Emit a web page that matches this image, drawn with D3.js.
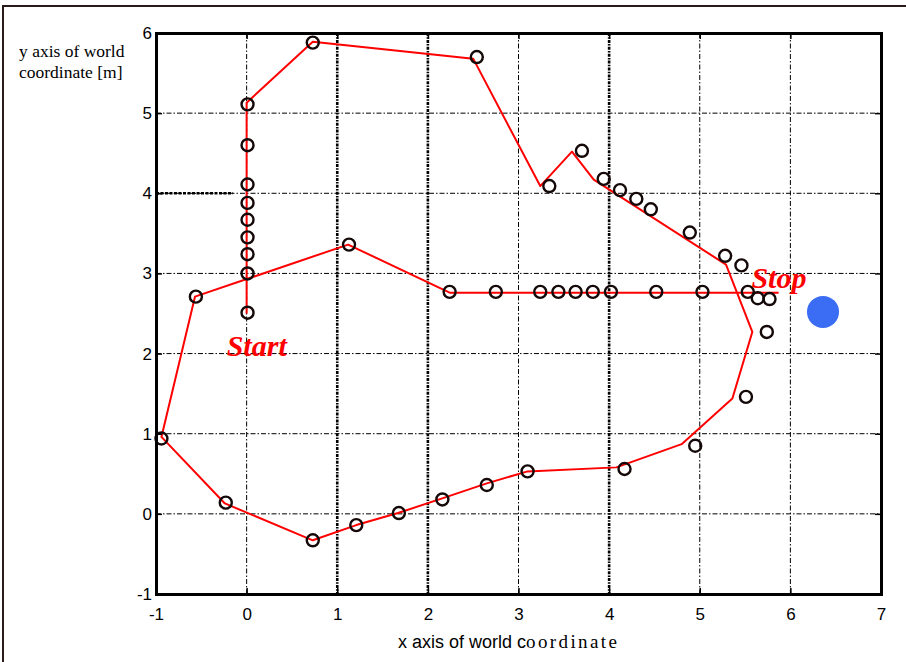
<!DOCTYPE html>
<html>
<head>
<meta charset="utf-8">
<script src="https://cdn.jsdelivr.net/npm/d3@7/dist/d3.min.js"></script>
<style>
  body { margin: 0; background: #fff; }
  svg  { display: block; }
</style>
</head>
<body>
<svg id="chart"></svg>
<script>
'use strict';

// robot trajectory (red line), world coordinates [m]
const pathX = [ 0.00, 0.00, 0.73, 2.50, 3.24, 3.59, 3.83, 5.29, 5.58, 5.36, 4.80, 4.08, 3.10,
                2.65, 2.15, 1.67, 1.21, 0.73, -0.24, -0.94, -0.57, 1.12, 2.24, 5.87 ];
const pathY = [ 2.50, 5.13, 5.89, 5.68, 4.09, 4.52, 4.17, 3.11, 2.27, 1.44, 0.87, 0.58, 0.53,
                0.38, 0.19, 0.01, -0.14, -0.33, 0.13, 0.96, 2.71, 3.36, 2.76, 2.76 ];

// observed landmarks (black circles)
const markX = [ 0.01, 0.01, 0.01, 0.01, 0.01, 0.01, 0.01, 0.01, 0.01,
                0.73, 2.54, 1.13, -0.56,
                2.24, 2.75, 3.24, 3.44, 3.63, 3.82, 4.02, 4.52, 5.03, 5.53,
                5.64, 5.77, 5.74,
                3.34, 3.70, 3.94, 4.12, 4.30, 4.46, 4.89, 5.28, 5.46,
                5.51, 4.95, 4.17, 3.10, 2.65, 2.16, 1.68, 1.21, 0.73, -0.23, -0.94 ];
const markY = [ 5.11, 4.60, 4.11, 3.88, 3.67, 3.45, 3.24, 3.00, 2.51,
                5.88, 5.70, 3.36, 2.71,
                2.77, 2.77, 2.77, 2.77, 2.77, 2.77, 2.77, 2.77, 2.77, 2.77,
                2.69, 2.68, 2.27,
                4.09, 4.53, 4.18, 4.04, 3.93, 3.80, 3.51, 3.22, 3.10,
                1.46, 0.85, 0.56, 0.53, 0.36, 0.18, 0.01, -0.14, -0.33, 0.14, 0.94 ];

// target (blue dot)
const goalX = [ 6.36 ];
const goalY = [ 2.52 ];

// annotations
const labelText = [ 'Start', 'Stop' ];
const labelX    = [ -0.22, 5.57 ];
const labelY    = [ 1.97, 2.82 ];

// axes
const xTicks = [ -1, 0, 1, 2, 3, 4, 5, 6, 7 ];
const yTicks = [ -1, 0, 1, 2, 3, 4, 5, 6 ];
const xTitle = [ 'x axis of world c', 'oordinate' ];
const yTitle = [ 'y axis of world', 'coordinate [m]' ];

const W = 906, H = 662;
const margin = { top: 33, right: 25, bottom: 68, left: 156 };
const width  = W - margin.left - margin.right,
      height = H - margin.top - margin.bottom;

const sans  = '"Liberation Sans", Arial, Helvetica, sans-serif',
      serif = '"Liberation Serif", "Times New Roman", serif';

const root = d3.select( '#chart' )
  .attr( 'width', W )
  .attr( 'height', H );

// figure frame
root.append( 'rect' )
  .attr( 'x', 3 ).attr( 'y', 6 )
  .attr( 'width', W + 10 ).attr( 'height', H + 10 )
  .attr( 'fill', 'none' )
  .attr( 'stroke', '#2b1a1a' )
  .attr( 'stroke-width', 2 );

const svg = root.append( 'g' )
  .attr( 'transform', `translate(${margin.left},${margin.top})` );

// scales
const x = d3.scaleLinear().domain( [ -1, 7 ] ).range( [ 0, width ] );
const y = d3.scaleLinear().domain( [ -1, 6 ] ).range( [ height, 0 ] );

// grid (dash-dot); a few vertical ones render heavier in the original
const heavy = [ 1, 2, 4 ];
svg.append( 'g' ).attr( 'class', 'grid x' )
  .selectAll( 'line' )
  .data( xTicks.slice( 1, -1 ) )
  .enter().append( 'line' )
    .attr( 'x1', d => x( d ) ).attr( 'x2', d => x( d ) )
    .attr( 'y1', 0 ).attr( 'y2', height )
    .attr( 'stroke', '#000' )
    .attr( 'stroke-width', d => heavy.includes( d ) ? 2.6 : 1 )
    .attr( 'stroke-dasharray', d => heavy.includes( d ) ? '3,1.2,1.5,1.2' : '5,2,1.5,2' );

svg.append( 'g' ).attr( 'class', 'grid y' )
  .selectAll( 'line' )
  .data( yTicks.slice( 1, -1 ) )
  .enter().append( 'line' )
    .attr( 'x1', 0 ).attr( 'x2', width )
    .attr( 'y1', d => y( d ) ).attr( 'y2', d => y( d ) )
    .attr( 'stroke', '#000' )
    .attr( 'stroke-width', 1 )
    .attr( 'stroke-dasharray', '5,2,1.5,2' );

// heavy stub on the y=4 grid line left of x=0
svg.append( 'line' )
  .attr( 'x1', x( -1 ) ).attr( 'x2', x( -0.15 ) )
  .attr( 'y1', y( 4 ) ).attr( 'y2', y( 4 ) )
  .attr( 'stroke', '#000' )
  .attr( 'stroke-width', 2.4 )
  .attr( 'stroke-dasharray', '3,1.5' );

// trajectory
const line = d3.line()
  .x( i => x( pathX[i] ) )
  .y( i => y( pathY[i] ) );

svg.append( 'path' )
  .attr( 'd', line( d3.range( pathX.length ) ) )
  .attr( 'fill', 'none' )
  .attr( 'stroke', '#ff0000' )
  .attr( 'stroke-width', 2 )
  .attr( 'stroke-linejoin', 'round' );

// landmarks
svg.append( 'g' ).attr( 'class', 'marks' )
  .selectAll( 'circle' )
  .data( d3.range( markX.length ) )
  .enter().append( 'circle' )
    .attr( 'cx', i => x( markX[i] ) )
    .attr( 'cy', i => y( markY[i] ) )
    .attr( 'r', 6 )
    .attr( 'fill', 'none' )
    .attr( 'stroke', '#140808' )
    .attr( 'stroke-width', 2.4 );

// goal
svg.selectAll( '.goal' )
  .data( d3.range( goalX.length ) )
  .enter().append( 'circle' )
    .attr( 'class', 'goal' )
    .attr( 'cx', i => x( goalX[i] ) )
    .attr( 'cy', i => y( goalY[i] ) )
    .attr( 'r', 16 )
    .attr( 'fill', '#3b6cf4' );

// Start / Stop
svg.selectAll( '.label' )
  .data( d3.range( labelText.length ) )
  .enter().append( 'text' )
    .attr( 'class', 'label' )
    .attr( 'x', i => x( labelX[i] ) )
    .attr( 'y', i => y( labelY[i] ) )
    .attr( 'fill', '#ff0000' )
    .style( 'font-family', serif )
    .style( 'font-size', '30px' )
    .style( 'font-weight', 'bold' )
    .style( 'font-style', 'italic' )
    .text( i => labelText[i] );

// axis box, ticks inward on all four sides
const tick = 6,
      fmt  = d => String( d );
svg.append( 'g' ).attr( 'class', 'axis bottom' )
  .attr( 'transform', `translate(0,${height})` )
  .call( d3.axisBottom( x ).tickValues( xTicks ).tickFormat( fmt ).tickSizeInner( -tick ).tickSizeOuter( 0 ).tickPadding( 14 ) );
svg.append( 'g' ).attr( 'class', 'axis top' )
  .call( d3.axisTop( x ).tickValues( xTicks ).tickSizeInner( -tick ).tickSizeOuter( 0 ).tickFormat( '' ) );
svg.append( 'g' ).attr( 'class', 'axis left' )
  .call( d3.axisLeft( y ).tickValues( yTicks ).tickFormat( fmt ).tickSizeInner( -tick ).tickSizeOuter( 0 ).tickPadding( 4 ) );
svg.append( 'g' ).attr( 'class', 'axis right' )
  .attr( 'transform', `translate(${width},0)` )
  .call( d3.axisRight( y ).tickValues( yTicks ).tickSizeInner( -tick ).tickSizeOuter( 0 ).tickFormat( '' ) );

svg.selectAll( '.axis path' )
  .attr( 'stroke', '#000' )
  .attr( 'stroke-width', 3 )
  .attr( 'stroke-linecap', 'square' );
svg.selectAll( '.axis line' )
  .attr( 'stroke', '#000' )
  .attr( 'stroke-width', 1.5 );
svg.selectAll( '.axis text' )
  .attr( 'fill', '#000' )
  .style( 'font-family', sans )
  .style( 'font-size', '17px' );

// x title: the original mixes a sans and a serif face
const xt = svg.append( 'text' )
  .attr( 'x', x( 1.67 ) )
  .attr( 'y', height + 54 )
  .attr( 'fill', '#000' );
xt.append( 'tspan' )
  .style( 'font-family', sans )
  .style( 'font-size', '18px' )
  .text( xTitle[0] );
xt.append( 'tspan' )
  .style( 'font-family', serif )
  .style( 'font-size', '19px' )
  .style( 'letter-spacing', '2.4px' )
  .text( xTitle[1] );

// y title, two lines in the top-left corner
root.append( 'text' )
  .attr( 'fill', '#000' )
  .style( 'font-family', serif )
  .style( 'font-size', '17.5px' )
  .selectAll( 'tspan' )
  .data( yTitle )
  .enter().append( 'tspan' )
    .attr( 'x', 19 )
    .attr( 'y', (d, i) => 57 + i * 21 )
    .text( d => d );
</script>
</body>
</html>
